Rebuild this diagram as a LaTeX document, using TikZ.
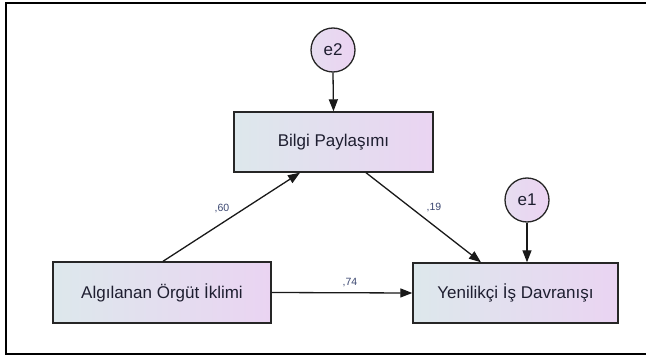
\documentclass[tikz,border=0pt]{standalone}
\usepackage{fontspec}
\setmainfont{Liberation Sans}
\usetikzlibrary{arrows.meta,calc}
\definecolor{boxL}{HTML}{DDE8EC}
\definecolor{boxR}{HTML}{EAD4F2}
\definecolor{circL}{HTML}{E6DDF0}
\definecolor{circR}{HTML}{EBD3F2}
\definecolor{txt}{HTML}{1E1E30}
\definecolor{coef}{HTML}{3A4670}
\begin{document}
\begin{tikzpicture}[x=1pt,y=1pt,
  varbox/.style={draw=black!85, line width=1.4pt, left color=boxL, right color=boxR,
    minimum height=60pt, inner sep=0pt, font=\fontsize{17}{19}\selectfont, text=txt},
  errc/.style={draw=black!85, circle, line width=1.3pt, left color=circL, right color=circR,
    minimum size=44pt, inner sep=0pt, font=\fontsize{17}{19}\selectfont, text=txt},
  path/.style={line width=1.3pt, draw=black!90, -{Triangle[length=12pt,width=9pt]}},
  coeflab/.style={font=\fontsize{10.5}{12}\selectfont, text=coef, inner sep=0pt}]
\useasboundingbox (0,0) rectangle (646,357);
\draw[line width=2pt, black] (648,354) -- (6,354) -- (6,3) -- (648,3);
\node[errc] (e2) at (333,307) {e2};
\node[errc] (e1) at (527,157) {e1};
\node[varbox, minimum width=199pt] (bp) at (333.5,215) {Bilgi Paylaşımı};
\node[varbox, minimum width=218pt, minimum height=61pt] (aoi) at (162,64.5) {Algılanan Örgüt İklimi};
\node[varbox, minimum width=205pt] (yid) at (515.5,64) {Yenilikçi İş Davranışı};
\draw[path] (e2.south) -- (bp.north);
\draw[path] (e1.south) -- ([xshift=11.5pt]yid.north);
\draw[path] ([xshift=1pt]aoi.north) -- ([xshift=-33.5pt]bp.south);
\draw[path] ([xshift=32.5pt]bp.south) -- ([xshift=-34.5pt]yid.north);
\draw[path] (aoi.east) -- (yid.west);
\node[coeflab] (c60) at (222,148) {,60};
\node[coeflab] (c19) at (434,149) {,19};
\node[coeflab] (c74) at (350,74) {,74};
\end{tikzpicture}
\end{document}
